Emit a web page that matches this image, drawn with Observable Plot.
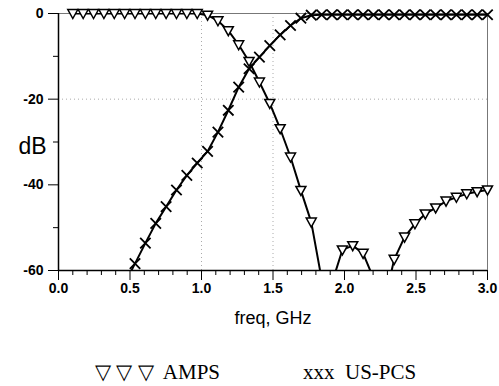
<!DOCTYPE html>
<html>
<head>
<meta charset="utf-8">
<script src="https://cdn.jsdelivr.net/npm/d3@7"></script>
<script src="https://cdn.jsdelivr.net/npm/@observablehq/plot@0.6"></script>
<style>
  body { margin: 0; background: #fff; }
  #legend { position: relative; width: 499px; height: 56px; font-family: "Liberation Serif", "Times New Roman", serif; font-size: 21px; color: #000; }
  #legend span { position: absolute; top: 30px; line-height: 24px; white-space: pre; }
</style>
</head>
<body>
<div id="chart"></div>
<div id="legend">
  <span style="left:95px">▽ ▽ ▽  AMPS</span>
  <span style="left:303px">xxx  US-PCS</span>
</div>
<script>
// Frequency samples (GHz)
const freq = [0.1, 0.1725, 0.245, 0.3175, 0.39, 0.4625, 0.535, 0.6075, 0.68, 0.7525,
  0.825, 0.8975, 0.97, 1.0425, 1.115, 1.1875, 1.26, 1.3325, 1.405, 1.4775,
  1.55, 1.6225, 1.695, 1.7675, 1.84, 1.9125, 1.985, 2.0575, 2.13, 2.2025,
  2.275, 2.3475, 2.42, 2.4925, 2.565, 2.6375, 2.71, 2.7825, 2.855, 2.9275, 3.0];

// AMPS response (dB)
const amps = [0, 0, 0, 0, 0, 0, 0, 0, 0, 0,
  0, 0, 0, -0.4, -1.7, -4.0, -7.3, -11.2, -16.0, -21.0,
  -26.9, -33.5, -41.3, -48.7, -62, -62.9, -55.2, -54.2, -56.0, -61.8,
  -68, -57.4, -52.2, -49.1, -46.8, -45.4, -43.8, -42.9, -42.1, -41.6, -41.2];

// US-PCS response (dB)
const pcs = [-80, -76, -72, -69, -66, -63, -58.4, -53.6, -49.0, -45.1,
  -41.2, -37.8, -34.9, -32.2, -27.7, -22.6, -17.2, -12.9, -10.2, -7.5,
  -5.0, -2.8, -1.1, -0.4, -0.3, -0.3, -0.3, -0.3, -0.3, -0.3,
  -0.3, -0.3, -0.3, -0.3, -0.3, -0.3, -0.3, -0.3, -0.3, -0.3, -0.3];

const xMajor = [0, 0.5, 1.0, 1.5, 2.0, 2.5, 3.0];
const xMinor = [0.1, 0.2, 0.3, 0.4, 0.6, 0.7, 0.8, 0.9, 1.1, 1.2, 1.3, 1.4, 1.6, 1.7, 1.8, 1.9, 2.1, 2.2, 2.3, 2.4, 2.6, 2.7, 2.8, 2.9];
const yMajor = [0, -20, -40, -60];
const yMinor = [-10, -30, -50];
const xGrid = [1.0, 1.5];
const yGrid = [-20];

const ampsData = freq.map((f, i) => ({f, db: amps[i]}));
const pcsData = freq.map((f, i) => ({f, db: pcs[i]}));

const triangleDown = {
  draw(ctx, size) {
    const r = Math.sqrt(size / Math.PI);
    ctx.moveTo(-r, -0.8 * r);
    ctx.lineTo(r, -0.8 * r);
    ctx.lineTo(0, r);
    ctx.closePath();
  }
};

const visible = d => d.db >= -60;

const chart = Plot.plot({
  width: 499,
  height: 330,
  marginLeft: 58,
  marginRight: 12,
  marginTop: 13,
  marginBottom: 60,
  style: { fontFamily: "'Liberation Sans', Arial, sans-serif", color: "#000", background: "#fff" },
  x: { domain: [0, 3] },
  y: { domain: [-60, 0] },
  marks: [
    Plot.ruleX(xGrid, { stroke: "#aaa", strokeDasharray: "1,3" }),
    Plot.ruleY(yGrid, { stroke: "#aaa", strokeDasharray: "1,3" }),
    Plot.frame({ stroke: "#777", strokeWidth: 1 }),
    Plot.axisX({ ticks: xMinor, tickSize: 5, text: null, label: null }),
    Plot.axisX({ ticks: xMajor, tickSize: 10, tickPadding: 3, tickFormat: d3.format(".1f"),
      fontSize: 14, fontWeight: "bold", label: null }),
    Plot.axisY({ ticks: yMinor, tickSize: 5, text: null, label: null }),
    Plot.axisY({ ticks: yMajor, tickSize: 10, tickPadding: 5, tickFormat: d => String(d),
      fontSize: 14, fontWeight: "bold", label: null }),
    Plot.ruleX([0], { stroke: "#000", strokeWidth: 1.5 }),
    Plot.ruleY([-60], { stroke: "#000", strokeWidth: 1.5 }),
    Plot.text(["dB"], { frameAnchor: "left", dx: -40, dy: 5, textAnchor: "start", fontSize: 23 }),
    Plot.text(["freq, GHz"], { frameAnchor: "bottom", dy: 53, fontSize: 18 }),
    Plot.line(pcsData, { x: "f", y: "db", stroke: "#000", strokeWidth: 2, clip: true }),
    Plot.line(ampsData, { x: "f", y: "db", stroke: "#000", strokeWidth: 2, clip: true }),
    Plot.dot(pcsData, { x: "f", y: "db", filter: visible, symbol: "times", r: 4.8, stroke: "#000", strokeWidth: 1.8 }),
    Plot.dot(ampsData, { x: "f", y: "db", filter: visible, symbol: triangleDown, r: 5, stroke: "#000", fill: "#fff", strokeWidth: 1.5 })
  ]
});
document.getElementById("chart").appendChild(chart);
</script>
</body>
</html>
